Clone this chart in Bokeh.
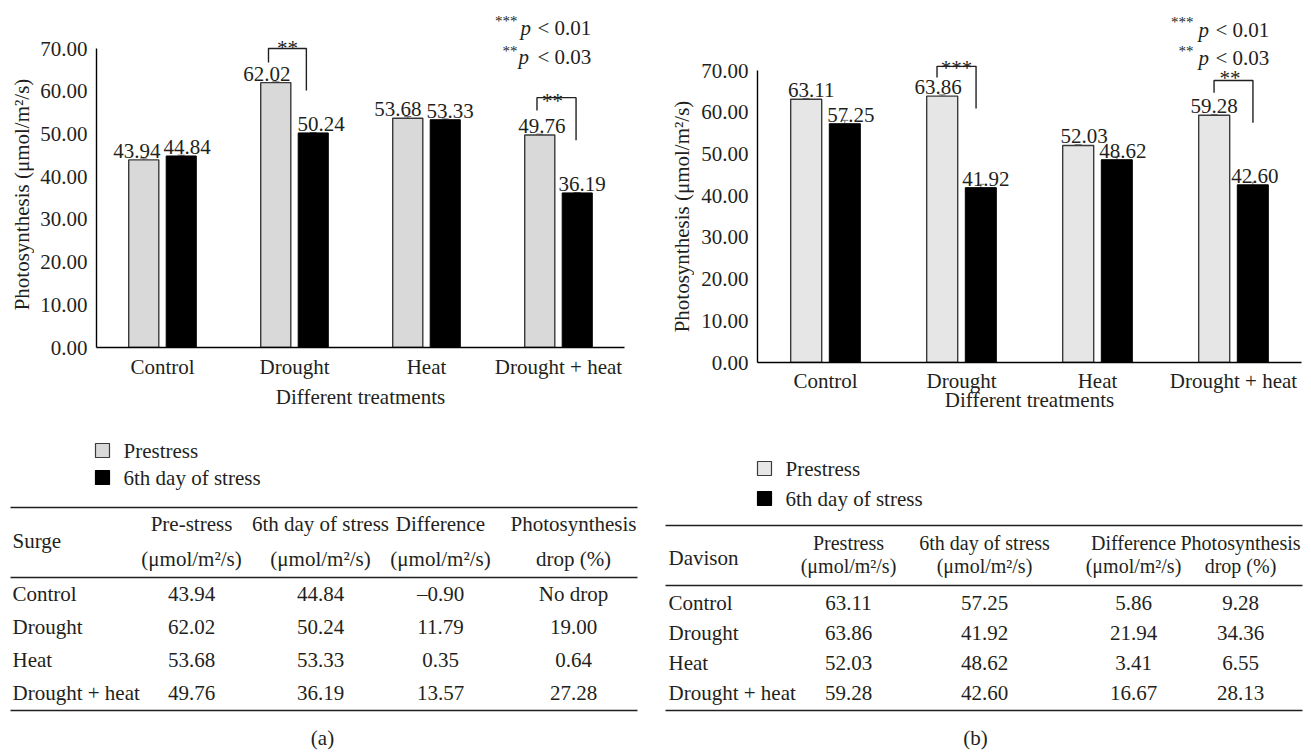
import numpy as np
from bokeh.plotting import figure
from bokeh.models import (ColumnDataSource, FactorRange, Range1d, FixedTicker,
                          NumeralTickFormatter, Whisker, TeeHead)
from bokeh.transform import dodge
from bokeh.layouts import row, column
from bokeh.core.properties import value
from bokeh.embed import file_html
from bokeh.resources import INLINE

# ---------------- data ----------------
categories = ["Control", "Drought", "Heat", "Drought + heat"]
series_names = ["Prestress", "6th day of stress"]
y_ticks = [0, 10, 20, 30, 40, 50, 60, 70]

surge_prestress = [43.94, 62.02, 53.68, 49.76]
surge_stress = [44.84, 50.24, 53.33, 36.19]
surge_err_pre = [0.4, 0.2, 0.4, 0.2]
surge_err_stress = [0.2, 0.1, 0.2, 0.1]
surge_difference = ["–0.90", "11.79", "0.35", "13.57"]
surge_drop = ["No drop", "19.00", "0.64", "27.28"]
surge_head1 = ["Pre-stress", "6th day of stress", "Difference", "Photosynthesis"]
surge_head2 = ["(μmol/m²/s)", "(μmol/m²/s)", "(μmol/m²/s)", "drop (%)"]

davison_prestress = [63.11, 63.86, 52.03, 59.28]
davison_stress = [57.25, 41.92, 48.62, 42.60]
davison_err_pre = [0.2, 0.3, 0.2, 0.2]
davison_err_stress = [0.8, 0.8, 0.8, 0.6]
davison_difference = ["5.86", "21.94", "3.41", "16.67"]
davison_drop = ["9.28", "34.36", "6.55", "28.13"]
davison_head1 = ["Prestress", "6th day of stress", "Difference", "Photosynthesis"]
davison_head2 = ["(μmol/m²/s)", "(μmol/m²/s)", "(μmol/m²/s)", "drop (%)"]

y_title = "Photosynthesis (μmol/m²/s)"
x_title = "Different treatments"

FONT = "Liberation Serif"
TXT = "#231f20"
FS = "21px"
OFF = 0.142
BW = 0.228
CHART_H = 418
PAGE_H = 751


def bare_figure(xr, yr, w, h):
    f = figure(x_range=xr, y_range=yr, width=w, height=h, output_backend="svg",
               toolbar_location=None, x_axis_type=None, y_axis_type=None,
               min_border=0, min_border_left=0, min_border_right=0,
               min_border_top=0, min_border_bottom=0, frame_align=False)
    f.outline_line_color = None
    f.grid.visible = False
    f.background_fill_color = "white"
    f.border_fill_color = "white"
    return f


def make_chart(pre, stress, e_pre, e_str, cfg):
    frame_h = cfg["frame_h"]
    ppu = cfg["ppu"]
    ytop = frame_h / ppu
    p = figure(x_range=FactorRange(*categories), y_range=Range1d(0, ytop),
               width=cfg["width"], height=CHART_H, output_backend="svg",
               toolbar_location=None, min_border_left=cfg["bl"],
               min_border_right=cfg["br"], min_border_top=0,
               min_border_bottom=CHART_H - frame_h, frame_align=False)
    p.outline_line_color = None
    p.grid.visible = False
    p.background_fill_color = "white"
    p.border_fill_color = "white"

    fx = lambda rx: (rx - cfg["axis_left"]) / cfg["cat_px"]
    fy = lambda ry: (cfg["zero_ref"] - ry) / ppu

    src = ColumnDataSource(dict(
        cat=categories, pre=pre, stress=stress,
        pre_hi=[v + e for v, e in zip(pre, e_pre)],
        pre_lo=[v - e for v, e in zip(pre, e_pre)],
        st_hi=[v + e for v, e in zip(stress, e_str)],
        st_lo=[v - e for v, e in zip(stress, e_str)],
        pre_lab=[f"{v:.2f}" for v in pre],
        st_lab=[f"{v:.2f}" for v in stress],
        pre_dx=cfg["pre_dx"], st_dx=cfg["st_dx"],
    ))
    xl = dodge("cat", -OFF, range=p.x_range)
    xr = dodge("cat", OFF, range=p.x_range)
    p.vbar(x=xl, top="pre", width=BW, source=src, fill_color=cfg["light"],
           line_color="#3a3a3a", line_width=1.4)
    p.vbar(x=xr, top="stress", width=BW, source=src, fill_color="black",
           line_color="black", line_width=1)

    for base, up, lo in ((xl, "pre_hi", "pre_lo"), (xr, "st_hi", "st_lo")):
        w = Whisker(source=src, base=base, upper=up, lower=lo,
                    line_color="#7a7a7a", line_width=1,
                    upper_head=TeeHead(size=7, line_color="#7a7a7a", line_width=1),
                    lower_head=TeeHead(size=7, line_color="#7a7a7a", line_width=1))
        p.add_layout(w)

    common = dict(text_font=value(FONT), text_font_size=FS, text_color=TXT,
                  text_align="center", text_baseline="alphabetic", y_offset=-9)
    p.text(x=xl, y="pre", text="pre_lab", x_offset="pre_dx", source=src, **common)
    p.text(x=xr, y="stress", text="st_lab", x_offset="st_dx", source=src, **common)

    # significance brackets
    for (cat, lo_off, hi_off, top, lb, rb, stars, s_off, s_base) in cfg["brackets"]:
        c = categories.index(cat) + 0.5
        p.line(x=[c + lo_off, c + lo_off, c + hi_off, c + hi_off],
               y=[lb, top, top, rb], line_color=TXT, line_width=1.4)
        p.text(x=[c + s_off], y=[s_base], text=[stars], text_font=value(FONT),
               text_font_size=FS, text_color=TXT, text_align="center",
               text_baseline="alphabetic")

    # p-value key
    for (sx, sy, stars, px, py, ltx, lt) in cfg["pkey"]:
        p.text(x=[fx(sx)], y=[fy(sy)], text=[stars], text_font=value(FONT),
               text_font_size="15px", text_color=TXT, text_align="right",
               text_baseline="alphabetic")
        p.text(x=[fx(px)], y=[fy(py)], text=["p"], text_font=value(FONT),
               text_font_size=FS, text_font_style="italic", text_color=TXT,
               text_align="left", text_baseline="alphabetic")
        p.text(x=[fx(ltx)], y=[fy(py)], text=[lt], text_font=value(FONT),
               text_font_size=FS, text_color=TXT, text_align="left",
               text_baseline="alphabetic")

    # axes
    xa = p.xaxis[0]
    xa.axis_label = x_title
    xa.axis_line_color = "black"
    xa.axis_line_width = 1.4
    xa.major_tick_line_color = None
    xa.minor_tick_line_color = None
    xa.major_tick_out = 0
    xa.major_tick_in = 0
    xa.major_label_standoff = cfg["xlab_standoff"]
    xa.axis_label_standoff = cfg["xtitle_standoff"]
    ya = p.yaxis[0]
    ya.ticker = FixedTicker(ticks=y_ticks)
    ya.formatter = NumeralTickFormatter(format="0.00")
    ya.bounds = (0, 70)
    ya.axis_line_color = "black"
    ya.axis_line_width = 1.4
    ya.major_tick_line_color = None
    ya.minor_tick_line_color = None
    ya.major_tick_out = 0
    ya.major_tick_in = 0
    ya.minor_tick_out = 0
    ya.major_label_standoff = 9
    for ax in (xa, ya):
        ax.major_label_text_font = FONT
        ax.major_label_text_font_size = FS
        ax.major_label_text_color = TXT
        ax.axis_label_text_font = FONT
        ax.axis_label_text_font_size = FS
        ax.axis_label_text_font_style = "normal"
        ax.axis_label_text_color = TXT
    return p


def make_ytitle_strip(cfg):
    """Narrow strip carrying the rotated y-axis title as a text glyph."""
    s = bare_figure(Range1d(0, cfg["strip_w"]), Range1d(CHART_H, 0), cfg["strip_w"], CHART_H)
    s.text(x=[cfg["ytitle_x"]], y=[cfg["ytitle_y"]], text=[y_title], angle=np.pi / 2,
           text_font=value(FONT), text_font_size=FS, text_color=TXT,
           text_align="center", text_baseline="middle")
    return s


def make_table(name, pre, stress, diff, drop, head1, head2, light, cfg):
    t = bare_figure(Range1d(cfg["x0"], cfg["x1"]), Range1d(PAGE_H, CHART_H),
                    cfg["x1"] - cfg["x0"], PAGE_H - CHART_H)

    tx = dict(text_font=value(FONT), text_font_size=FS, text_color=TXT,
              text_baseline="middle")
    # legend
    t.rect(x=[cfg["sq_x"]] * 2, y=cfg["leg_y"], width=14, height=14,
           width_units="screen", height_units="screen",
           fill_color=[light, "black"], line_color=["#3a3a3a", "black"], line_width=1.2)
    t.text(x=[cfg["leg_tx"]] * 2, y=cfg["leg_y"], text=series_names,
           text_align="left", **tx)

    # rules
    L, R = cfg["left"], cfg["right"]
    for ry in cfg["rules"]:
        t.line(x=[L, R], y=[ry, ry], line_color=TXT, line_width=1.6)

    # header
    t.text(x=[cfg["name_x"]], y=[cfg["name_y"]], text=[name], text_align="left", **tx)
    hx = dict(tx)
    hx["text_font_size"] = cfg["head_fs"]
    t.text(x=cfg["col_x"], y=[cfg["h1_y"]] * 4, text=head1, text_align="center", **hx)
    t.text(x=cfg["col_x"], y=[cfg["h2_y"]] * 4, text=head2, text_align="center", **hx)

    # body
    n = len(categories)
    rows_y = [cfg["row_y0"] + i * cfg["row_dy"] for i in range(n)]
    t.text(x=[cfg["name_x"]] * n, y=rows_y, text=categories, text_align="left", **tx)
    cols = [[f"{v:.2f}" for v in pre], [f"{v:.2f}" for v in stress], diff, drop]
    for j, colvals in enumerate(cols):
        t.text(x=[cfg["col_x"][j]] * n, y=rows_y, text=colvals, text_align="center", **tx)

    t.text(x=[cfg["cap"][0]], y=[cfg["cap"][1]], text=[cfg["cap_text"]],
           text_align="center", **tx)
    return t


cfg_a = dict(width=624, bl=62, br=34, frame_h=347, ppu=4.271, zero_ref=347,
             axis_left=96, cat_px=132, light="#d9d9d9",
             xlab_standoff=7, xtitle_standoff=3,
             strip_w=34, ytitle_x=21, ytitle_y=194,
             pre_dx=[-7, -9, -10, 2], st_dx=[6, 8, 5, 5],
             brackets=[("Drought", -0.197, 0.09, 70.0, 66.7, 60.2, "**", -0.053, 70.2),
                       ("Drought + heat", -0.163, 0.133, 58.5, 55.5, 48.5, "**", -0.045, 57.8)],
             pkey=[(517, 20, "***", 520, 27, 537, "< 0.01"),
                   (517, 50, "**", 518, 56, 537, "< 0.03")])
cfg_b = dict(width=616, bl=63, br=9, frame_h=362, ppu=4.171, zero_ref=362,
             axis_left=757, cat_px=136, light="#e6e6e6",
             xlab_standoff=6, xtitle_standoff=-8,
             strip_w=36, ytitle_x=23, ytitle_y=216,
             pre_dx=[5, -4, 6, 0], st_dx=[6, 5, 6, 2],
             brackets=[("Drought", -0.18, 0.107, 71.0, 68.3, 60.9, "***", -0.037, 70.7),
                       ("Drought + heat", -0.143, 0.143, 67.6, 64.7, 57.5, "**", -0.026, 68.1)],
             pkey=[(1193, 21, "***", 1198, 29, 1215, "< 0.01"),
                   (1193, 50, "**", 1198, 57, 1215, "< 0.03")])

tcfg_a = dict(x0=0, x1=658, left=10, right=637, rules=[507, 577, 710],
              name_x=12, name_y=540, h1_y=523, h2_y=558, head_fs="21px",
              col_x=[191, 320, 440, 573], row_y0=593, row_dy=33.3,
              cap=(322, 737), cap_text="(a)", sq_x=102, leg_tx=123, leg_y=[450, 477])
tcfg_b = dict(x0=658, x1=1310, left=665, right=1302, rules=[525, 585, 710],
              name_x=668, name_y=557, h1_y=542, h2_y=565, head_fs="20px",
              col_x=[848, 984, 1133, 1240], row_y0=602, row_dy=30,
              cap=(975, 737), cap_text="(b)", sq_x=764, leg_tx=785, leg_y=[468, 498])

strip_a = make_ytitle_strip(cfg_a)
strip_b = make_ytitle_strip(cfg_b)
chart_a = make_chart(surge_prestress, surge_stress, surge_err_pre, surge_err_stress, cfg_a)
chart_b = make_chart(davison_prestress, davison_stress, davison_err_pre, davison_err_stress, cfg_b)
table_a = make_table("Surge", surge_prestress, surge_stress, surge_difference, surge_drop,
                     surge_head1, surge_head2, "#d9d9d9", tcfg_a)
table_b = make_table("Davison", davison_prestress, davison_stress, davison_difference,
                     davison_drop, davison_head1, davison_head2, "#e6e6e6", tcfg_b)

layout = row(column(row(strip_a, chart_a, spacing=0), table_a, spacing=0),
             column(row(strip_b, chart_b, spacing=0), table_b, spacing=0), spacing=0)

with open("out.html", "w") as f:
    f.write(file_html(layout, INLINE))
